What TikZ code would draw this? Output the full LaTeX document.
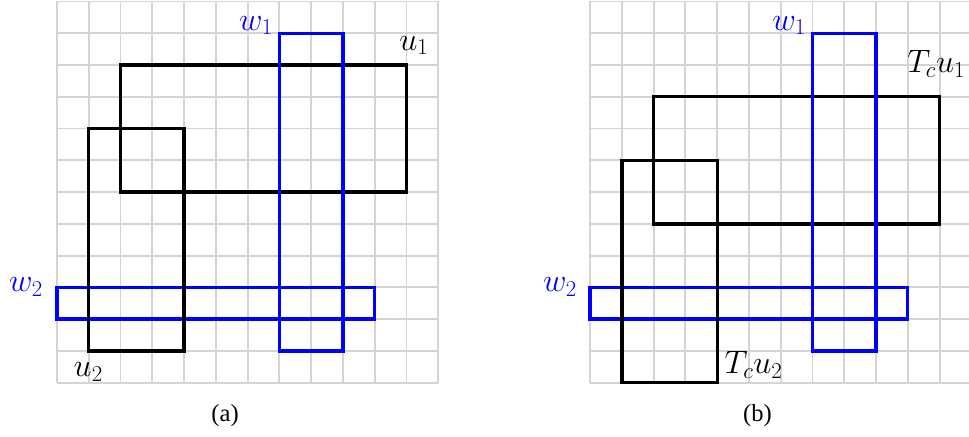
\documentclass[tikz,border=0pt]{standalone}
\usepackage{fix-cm}
\usepackage[no-math]{fontspec}
\setmainfont{Liberation Serif}
\usetikzlibrary{positioning}

\begin{document}
\begin{tikzpicture}[
  x=1cm, y=1cm,
  gridline/.style={draw=black!17, line width=1.7pt},
  ubox/.style={draw=black, line width=3pt},
  wbox/.style={draw=blue, line width=3pt},
  lab/.style={inner sep=0pt, font=\fontsize{29}{35}\selectfont},
  captext/.style={inner sep=0pt, font=\fontsize{22}{26}\selectfont}
]
  \useasboundingbox (-1.794,-1.678) rectangle (28.706,12.046);
  % panel (a)
  \begin{scope}
    \draw[gridline] (0,0) grid (12,12);
    \draw[wbox] (0,2) rectangle (10,3);
    \draw[ubox] (1,1) rectangle (4,8);
    \draw[ubox] (2,6) rectangle (11,10);
    \draw[wbox] (7,1) rectangle (9,11);
    \node[lab, anchor=base east, text=blue] (w1a) at (6.80,11.10) {$w_1$};
    \node[lab, anchor=base west] (u1a) at (10.77,10.47) {$u_1$};
    \node[lab, anchor=base east, text=blue] (w2a) at (-0.44,2.86) {$w_2$};
    \node[lab, anchor=base west] (u2a) at (0.52,0.19) {$u_2$};
    \node[captext, anchor=base] (capa) at (5.29,-1.23) {(a)};
  \end{scope}
  % panel (b), Tc shifts u down by one cell
  \begin{scope}[xshift=16.78cm]
    \draw[gridline] (0,0) grid (12,12);
    \draw[wbox] (0,2) rectangle (10,3);
    \draw[ubox] (1,0) rectangle (4,7);
    \draw[ubox] (2,5) rectangle (11,9);
    \draw[wbox] (7,1) rectangle (9,11);
    \node[lab, anchor=base east, text=blue] (w1b) at (6.80,11.10) {$w_1$};
    \node[lab, anchor=base west] (u1b) at (9.98,9.75) {$T_c u_1$};
    \node[lab, anchor=base east, text=blue] (w2b) at (-0.41,2.86) {$w_2$};
    \node[lab, anchor=base west] (u2b) at (4.23,0.30) {$T_c u_2$};
    \node[captext, anchor=base] (capb) at (5.27,-1.23) {(b)};
  \end{scope}
\end{tikzpicture}
\end{document}
